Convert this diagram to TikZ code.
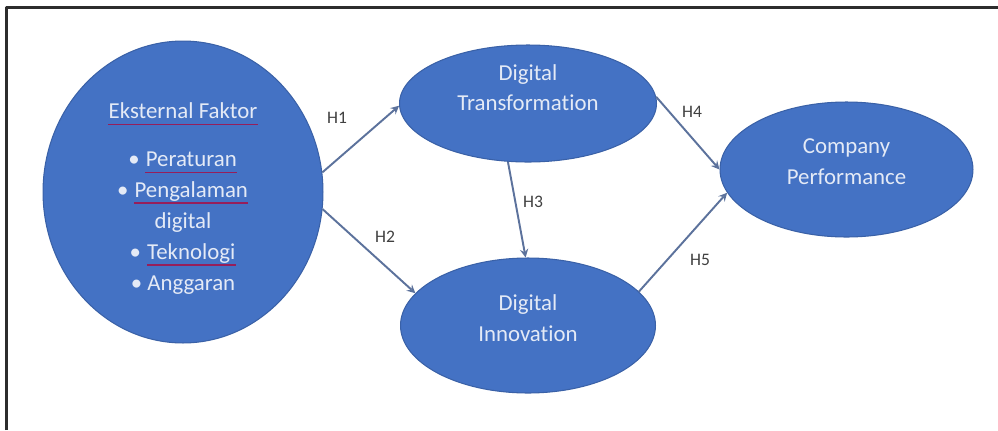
\documentclass[tikz,border=0pt]{standalone}
\usepackage{fontspec}
\setmainfont{Carlito}[Ligatures=NoCommon]
\usetikzlibrary{shapes.geometric}
\definecolor{nodeblue}{RGB}{68,114,196}
\definecolor{arrowgray}{RGB}{92,114,156}
\definecolor{softwhite}{RGB}{228,234,246}
\definecolor{spellred}{RGB}{150,30,90}
\definecolor{framegray}{RGB}{45,45,45}
% spell-check mark under a word
\newcommand\spellmark[1]{\tikz[baseline=(w.base)]{\node[inner sep=0pt] (w) {#1};
    \draw[spellred,line width=0.7pt] ([yshift=-3.2pt]w.base west) -- ([yshift=-3.2pt]w.base east);}}
\begin{document}
\begin{tikzpicture}[x=0.02cm,y=-0.02cm,line join=round,>=stealth]
    \tikzset{
        var/.style={ellipse,fill=nodeblue,draw=nodeblue!85!black,line width=0.6pt,inner sep=0pt},
        vartext/.style={text=softwhite,align=center,font=\fontsize{13}{17.6}\selectfont},
        arr/.style={->,draw=arrowgray,line width=1.1pt},
        hyp/.style={text=black!75,font=\fontsize{10}{12}\selectfont}
    }
    \useasboundingbox (0,0) rectangle (998,430);
    \draw[framegray,line width=1.2pt] (6.5,430) -- (6.5,7.5) -- (998,7.5);
    % constructs
    \node[var,minimum width=5.6cm,minimum height=6.04cm] (ext) at (183,192) {};
    \node[var,minimum width=5.14cm,minimum height=2.34cm] (dt) at (528,103.5) {};
    \node[var,minimum width=5.1cm,minimum height=2.7cm] (di) at (528,325.5) {};
    \node[var,minimum width=5.06cm,minimum height=2.7cm] (cp) at (846.5,169.5) {};
    \node[vartext] (ext-txt) at ([yshift=-3.7pt]ext.center)
        {\spellmark{Eksternal Faktor}\\[9.6pt]
         • \spellmark{Peraturan}\\ • \spellmark{Pengalaman}\\ digital\\
         • \spellmark{Teknologi}\\ • Anggaran};
    \node[vartext] (dt-txt) at ([yshift=9pt]dt.center) {Digital\\ Transformation};
    \node[vartext] (di-txt) at ([yshift=4pt]di.center) {Digital\\ Innovation};
    \node[vartext] (cp-txt) at ([yshift=4.2pt]cp.center) {Company\\ Performance};
    % hypotheses
    \draw[arr] (ext.8) -- (dt.181);
    \draw[arr] (ext.-7) -- (di.164);
    \draw[arr] (dt.251) -- (di.92);
    \draw[arr] (dt.3) -- (cp.180);
    \draw[arr] (di.17) -- (cp.191);
    \node[hyp] (h1) at (337,118) {H1};
    \node[hyp] (h2) at (385,237) {H2};
    \node[hyp] (h3) at (533,202) {H3};
    \node[hyp] (h4) at (692,112) {H4};
    \node[hyp] (h5) at (700,260) {H5};
\end{tikzpicture}
\end{document}
